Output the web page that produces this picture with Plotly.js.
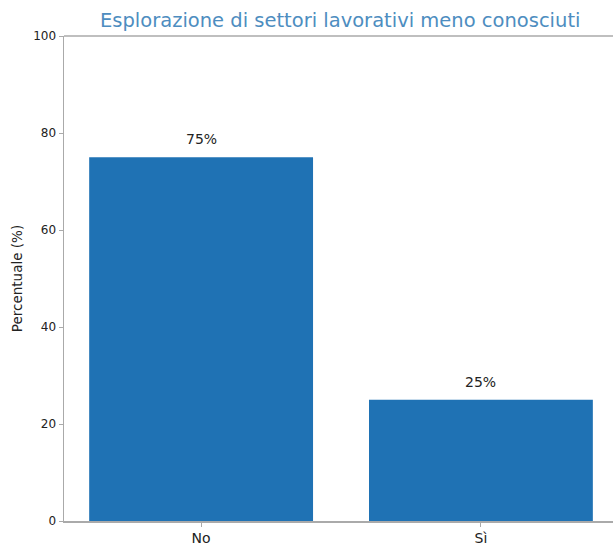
<!DOCTYPE html>
<html>
<head>
<meta charset="utf-8">
<script src="https://cdn.plot.ly/plotly-3.0.1.min.js"></script>
<style>html,body{margin:0;padding:0;background:#fff;}#chart{width:613px;height:547px;}</style>
</head>
<body>
<div id="chart"></div>
<script>
const categories = ["No", "Sì"];
const values = [75, 25];
const labels = ["75%", "25%"];
const yTicks = [0, 20, 40, 60, 80, 100];

const font = "DejaVu Sans, sans-serif";
const trace = {
  type: "bar",
  x: [0, 1],
  y: values,
  width: 0.8,
  marker: {color: "#1f72b4", line: {width: 0}},
  hoverinfo: "skip"
};
const annotations = categories.map((c, i) => ({
  x: i, y: values[i], xref: "x", yref: "y",
  text: labels[i], showarrow: false, yanchor: "bottom", yshift: 8,
  font: {family: font, size: 14, color: "#222"}
}));
const layout = {
  width: 613, height: 547,
  margin: {l: 64, r: 0, t: 36, b: 26},
  paper_bgcolor: "#fff", plot_bgcolor: "#fff",
  showlegend: false,
  title: {text: "Esplorazione di settori lavorativi meno conosciuti", x: 0.555, xanchor: "center", xref: "container", yref: "container", y: 1 - 20 / 547, yanchor: "middle", font: {family: font, size: 19.5, color: "#4d8dc0"}},
  xaxis: {
    range: [-0.49, 1.472], tickvals: [0, 1], ticktext: categories,
    showgrid: false, zeroline: false, showline: true, linecolor: "#aaaaaa", linewidth: 1.5,
    ticks: "outside", ticklen: 4, tickcolor: "#aaaaaa", tickwidth: 1,
    tickfont: {family: font, size: 14, color: "#222"}
  },
  yaxis: {
    range: [0, 100], tickvals: yTicks, showgrid: false, zeroline: false,
    showline: true, linecolor: "#aaaaaa", linewidth: 1.5,
    ticks: "outside", ticklen: 4, tickcolor: "#aaaaaa", tickwidth: 1,
    tickfont: {family: font, size: 12, color: "#222"},
    title: {text: "Percentuale (%)", standoff: 7, font: {family: font, size: 13.5, color: "#222"}}
  },
  shapes: [{type: "line", xref: "paper", yref: "paper", x0: 0, x1: 1, y0: 1, y1: 1, line: {color: "#aaaaaa", width: 1.5}}],
  annotations: annotations
};
Plotly.newPlot("chart", [trace], layout, {displayModeBar: false, staticPlot: true});
</script>
</body>
</html>
